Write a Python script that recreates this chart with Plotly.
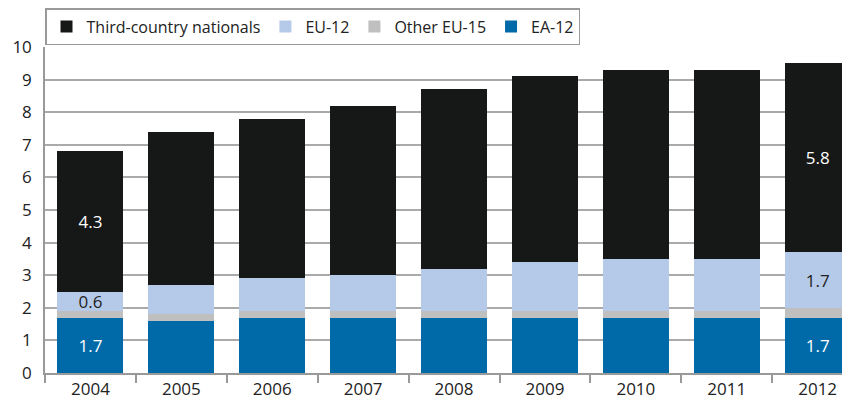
import plotly.graph_objects as go

years = ["2004", "2005", "2006", "2007", "2008", "2009", "2010", "2011", "2012"]
ea12 = [1.7, 1.6, 1.7, 1.7, 1.7, 1.7, 1.7, 1.7, 1.7]
other_eu15 = [0.2, 0.2, 0.2, 0.2, 0.2, 0.2, 0.2, 0.2, 0.3]
eu12 = [0.6, 0.9, 1.0, 1.1, 1.3, 1.5, 1.6, 1.6, 1.7]
third = [4.3, 4.7, 4.9, 5.2, 5.5, 5.7, 5.8, 5.8, 5.8]

labelled = {"2004", "2012"}

def labels(vals):
    return [f"{v:.1f}" if y in labelled else "" for y, v in zip(years, vals)]

FONT = "Open Sans"
series = [
    ("EA-12", ea12, "#006aa8", "white", True),
    ("Other EU-15", other_eu15, "#bfbfbf", "#222", False),
    ("EU-12", eu12, "#b5cae8", "#222", True),
    ("Third-country nationals", third, "#161817", "white", True),
]

# the page body adds an 8px offset; the figure is sized to fill the rest
W, H, OFF = 842, 393, 8

fig = go.Figure()
for name, vals, color, tcol, show in series:
    fig.add_trace(go.Bar(
        x=years, y=vals, name=name,
        marker=dict(color=color, line=dict(width=0)),
        text=labels(vals) if show else None,
        textposition="inside", insidetextanchor="middle",
        constraintext="none",
        textfont=dict(color=tcol, size=17, family=FONT),
        texttemplate="%{text}" if show else None,
        textangle=0,
        hoverinfo="skip",
    ))

fig.update_layout(
    barmode="stack",
    bargap=0.274,
    width=W, height=H,
    margin=dict(l=45 - OFF, r=0, t=47 - OFF, b=28, autoexpand=False),
    plot_bgcolor="white", paper_bgcolor="white",
    font=dict(family=FONT, size=16, color="#222"),
    legend=dict(
        orientation="h", traceorder="reversed",
        xref="container", yref="container",
        x=(45 - OFF) / W, y=1.0, xanchor="left", yanchor="top",
        bordercolor="#999", borderwidth=1.5,
        font=dict(size=16, family=FONT, color="#222"),
        itemwidth=30,
        tracegroupgap=0,
    ),
    showlegend=True,
)
fig.update_xaxes(
    type="category",
    range=[-0.5, -0.5 + (850 - 45) / 90.9],
    showline=True, linecolor="#999", linewidth=1.5,
    ticks="outside", tickson="boundaries", ticklen=8, tickcolor="#999", tickwidth=1.5,
    showgrid=False, tickfont=dict(size=17),
)
fig.update_yaxes(
    range=[0, 10], dtick=1,
    showline=True, linecolor="#999", linewidth=1.5,
    showgrid=True, gridcolor="#aaa", gridwidth=1.5,
    zeroline=False, ticks="", ticklabelstandoff=8,
    tickfont=dict(size=17),
)
fig.write_html("out.html")
